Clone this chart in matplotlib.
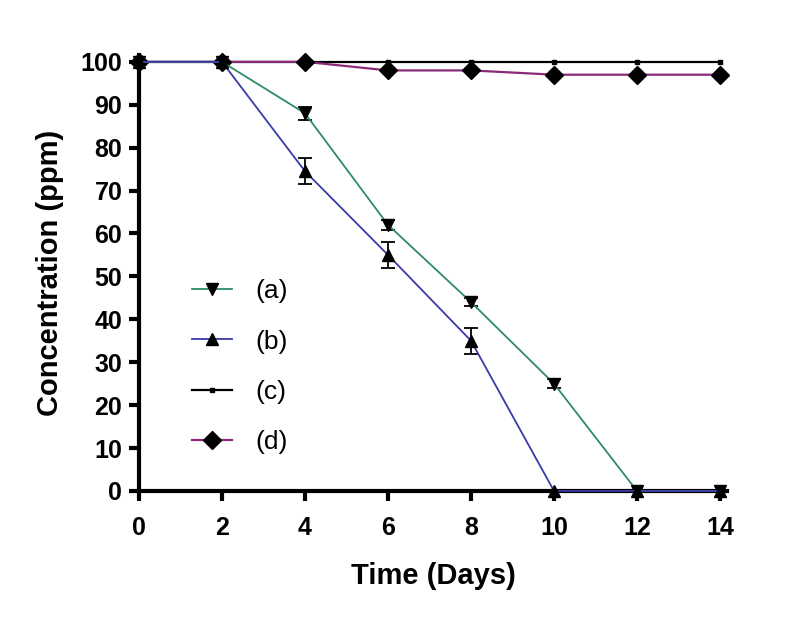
import matplotlib.pyplot as plt
from matplotlib.lines import Line2D

plt.rcParams['font.family'] = ['Liberation Sans', 'DejaVu Sans']

# --- data ---
days = [0, 2, 4, 6, 8, 10, 12, 14]
conc_a = [100, 100, 88, 62, 44, 25, 0, 0]
err_a = [0, 0, 1.5, 1.2, 1.0, 1.0, 0, 0]
conc_b = [100, 100, 74.5, 55, 35, 0, 0, 0]
err_b = [0, 0, 3.0, 3.0, 3.0, 0, 0, 0]
conc_c = [100, 100, 100, 100, 100, 100, 100, 100]
conc_d = [100, 100, 100, 98, 98, 97, 97, 97]
labels = ['(a)', '(b)', '(c)', '(d)']

col_a, col_b, col_c, col_d = '#2e8b63', '#3a3aa8', 'black', '#8b2a7a'

fig = plt.figure(figsize=(8.1, 6.26), dpi=100)
ax = fig.add_axes([0.1716, 0.2157, 0.726, 0.6965])

ax.plot(days, conc_c, color=col_c, lw=1.6, marker='s', ms=3.5, zorder=3,
        clip_on=False)
ax.plot(days, conc_d, color=col_d, lw=1.6, marker='D', ms=9,
        mfc='black', mec='black', zorder=4, clip_on=False)
for y, e, c, m in [(conc_a, err_a, col_a, 'v'), (conc_b, err_b, col_b, '^')]:
    eb = ax.errorbar(days, y, yerr=e, color=c, lw=1.3,
                     marker=m, ms=9, mfc='black', mec='black',
                     ecolor='black', elinewidth=1.3, capsize=5, capthick=1.3,
                     zorder=5)
    eb[0].set_clip_on(False)

ax.set_xlim(0, 14.17)
ax.set_ylim(0, 101.6)
ax.set_xticks(range(0, 15, 2))
ax.set_yticks(range(0, 101, 10))

for s in ['top', 'right']:
    ax.spines[s].set_visible(False)
for s in ['left', 'bottom']:
    ax.spines[s].set_linewidth(3)
ax.tick_params(direction='out', length=7, width=3, labelsize=18)
ax.tick_params(axis='x', pad=11)
ax.tick_params(axis='y', pad=5)
for lab in ax.get_xticklabels() + ax.get_yticklabels():
    lab.set_fontweight('bold')

ax.set_xlabel('Time (Days)', fontsize=21, fontweight='bold', labelpad=16)
ax.set_ylabel('Concentration (ppm)', fontsize=21, fontweight='bold', labelpad=12)

handles = [
    Line2D([], [], color=col_a, lw=1.3, marker='v', ms=9, mfc='black', mec='black'),
    Line2D([], [], color=col_b, lw=1.3, marker='^', ms=9, mfc='black', mec='black'),
    Line2D([], [], color=col_c, lw=1.6, marker='s', ms=3.5),
    Line2D([], [], color=col_d, lw=1.6, marker='D', ms=9, mfc='black', mec='black'),
]
ax.legend(handles, labels, loc='upper left', bbox_to_anchor=(0.05, 0.54),
          frameon=False, fontsize=19, labelspacing=1.0, handlelength=1.5,
          handletextpad=0.9)

fig.savefig('out.png', dpi=100)
